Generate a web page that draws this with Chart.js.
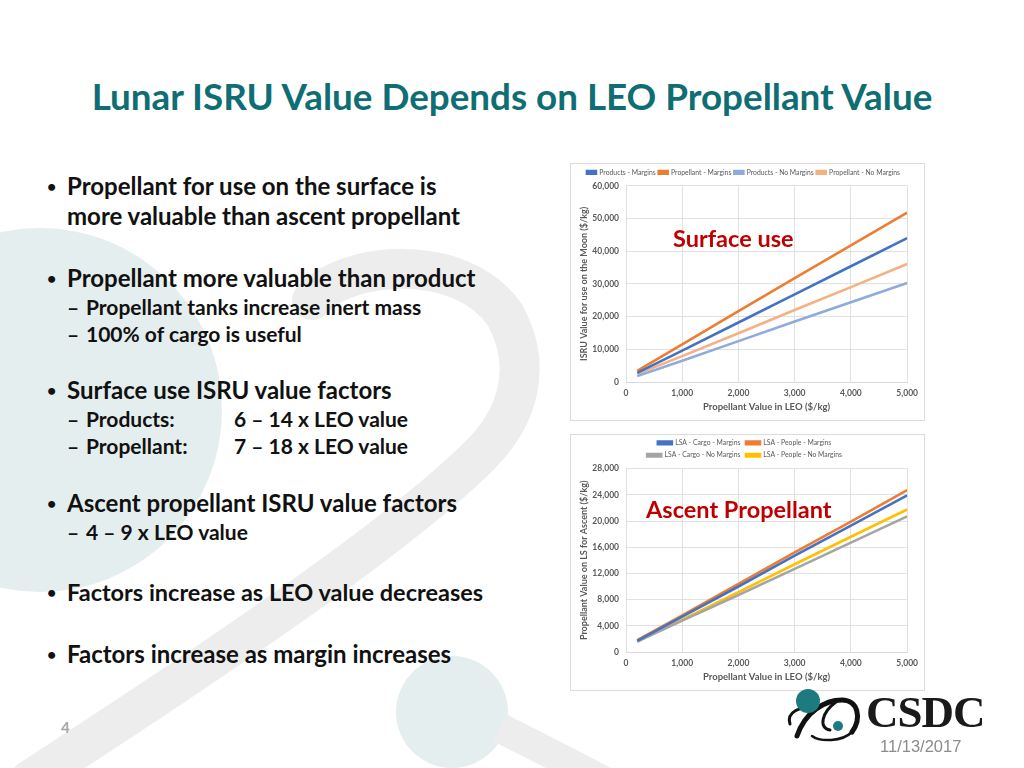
<!DOCTYPE html>
<html>
<head>
<meta charset="utf-8">
<script src="https://cdn.jsdelivr.net/npm/chart.js@4.4.1/dist/chart.umd.min.js"></script>
<style>
  html,body{margin:0;padding:0;background:#fff;}
  body{width:1024px;height:768px;position:relative;overflow:hidden;font-family:Lato,"Open Sans",sans-serif;}
  .t{position:absolute;white-space:nowrap;color:#111;font-weight:700;}
  .title{left:0;width:1024px;text-align:center;top:74px;line-height:44px;font-size:36.8px;color:#0e6e74;}
  .b1{font-size:24px;line-height:30px;}
  .b1n{font-size:23.5px;line-height:30px;}
  .b2{font-size:21px;line-height:26px;}
  .dot{font-size:16px;line-height:30px;}
  .box{position:absolute;background:#fff;border:1px solid #dcdcdc;box-sizing:border-box;}
  .box canvas{position:absolute;left:0;top:0;}
  .anno{position:absolute;color:#c00000;font-weight:700;font-size:23.5px;line-height:28px;white-space:nowrap;}
</style>
</head>
<body>
<svg width="1024" height="768" style="position:absolute;left:0;top:0" xmlns="http://www.w3.org/2000/svg">
  <circle cx="40" cy="410" r="182" fill="#e5eeee"/>
  <circle cx="452" cy="712" r="56" fill="#e5eeee"/>
  <path d="M 312 300 C 345 262, 460 250, 505 315 C 535 370, 515 420, 480 455 C 400 535, 230 650, 30 780" stroke="#ededed" stroke-width="40" fill="none" stroke-linecap="round"/>
  <path d="M 500 728 C 540 748, 580 768, 620 790" stroke="#ededed" stroke-width="30" fill="none"/>
</svg>

<div class="t title">Lunar ISRU Value Depends on LEO Propellant Value</div>

<div class="t dot" style="left:47px;top:171px">•</div>
<div class="t b1" style="left:67px;top:171px">Propellant for use on the surface is</div>
<div class="t b1" style="left:67px;top:201px">more valuable than ascent propellant</div>

<div class="t dot" style="left:47px;top:263px">•</div>
<div class="t b1" style="left:67px;top:263px">Propellant more valuable than product</div>
<div class="t b2" style="left:67px;top:294px">–</div>
<div class="t b2" style="left:86px;top:294px">Propellant tanks increase inert mass</div>
<div class="t b2" style="left:67px;top:321px">–</div>
<div class="t b2" style="left:86px;top:321px">100% of cargo is useful</div>

<div class="t dot" style="left:47px;top:375px">•</div>
<div class="t b1" style="left:67px;top:375px">Surface use ISRU value factors</div>
<div class="t b2" style="left:67px;top:406px">–</div>
<div class="t b2" style="left:86px;top:406px">Products:</div>
<div class="t b2" style="left:234px;top:406px">6 – 14 x LEO value</div>
<div class="t b2" style="left:67px;top:433px">–</div>
<div class="t b2" style="left:86px;top:433px">Propellant:</div>
<div class="t b2" style="left:234px;top:433px">7 – 18 x LEO value</div>

<div class="t dot" style="left:47px;top:488px">•</div>
<div class="t b1" style="left:67px;top:488px">Ascent propellant ISRU value factors</div>
<div class="t b2" style="left:67px;top:519px">–</div>
<div class="t b2" style="left:86px;top:519px">4 – 9 x LEO value</div>

<div class="t dot" style="left:47px;top:577px">•</div>
<div class="t b1n" style="left:67px;top:577px">Factors increase as LEO value decreases</div>

<div class="t dot" style="left:47px;top:639px">•</div>
<div class="t b1" style="left:67px;top:639px">Factors increase as margin increases</div>

<div class="t" style="left:61px;top:718px;font-size:15px;color:#a6a6a6;">4</div>

<div class="box" style="left:570px;top:163px;width:355px;height:258px;">
  <canvas id="c1" width="353" height="256" style="width:353px;height:256px"></canvas>
</div>
<div class="anno" style="left:673px;top:224px;">Surface use</div>

<div class="box" style="left:570px;top:434px;width:355px;height:257px;">
  <canvas id="c2" width="353" height="255" style="width:353px;height:255px"></canvas>
</div>
<div class="anno" style="left:646px;top:495px;">Ascent Propellant</div>

<svg width="80" height="70" style="position:absolute;left:785px;top:676px" xmlns="http://www.w3.org/2000/svg">
  <path d="M 5 48 C 1 36, 15 30, 30 32" stroke="#111" stroke-width="3" fill="none" stroke-linecap="round"/>
  <path d="M 12 60 C 20 36, 40 24, 57 24 C 73 24, 77 42, 67 56" stroke="#111" stroke-width="5" fill="none" stroke-linecap="round"/>
  <path d="M 67 56 C 57 66, 35 66, 27 60" stroke="#111" stroke-width="2.5" fill="none" stroke-linecap="round"/>
  <path d="M 51 26 C 37 36, 33 52, 45 54" stroke="#111" stroke-width="3" fill="none" stroke-linecap="round"/>
  <circle cx="23" cy="25" r="12" fill="#1d7b80"/>
  <circle cx="53" cy="50" r="5" fill="#1d7b80"/>
</svg>
<div class="t" style="left:866px;top:688px;font-family:'Liberation Serif',serif;font-size:45px;line-height:48px;color:#1a1a1a;letter-spacing:-1px;">CSDC</div>
<div class="t" style="left:880px;top:737px;font-family:'Liberation Sans',Arial,sans-serif;font-weight:400;font-size:16.5px;line-height:18px;color:#8c8c8c;">11/13/2017</div>

<script>
// ---------- Data ----------
const leoValues = [200, 1000, 2000, 3000, 4000, 5000];

// Surface use chart
const surfaceNames = ["Products - Margins", "Propellant - Margins", "Products - No Margins", "Propellant - No Margins"];
const productsMargins    = [2800, 9600, 18200, 26800, 35400, 44000];
const propellantMargins  = [3400, 11500, 21700, 31800, 41800, 51800];
const productsNoMargins  = [1800, 6500, 12500, 18500, 24400, 30300];
const propellantNoMargins= [2400, 7900, 14900, 22000, 29000, 36100];
const surfaceColors = ["#4472c4", "#ed7d31", "#8faadc", "#f4b183"];
const surfaceYTicks = [0, 10000, 20000, 30000, 40000, 50000, 60000];

// Ascent chart
const ascentNames = ["LSA - Cargo - Margins", "LSA - People - Margins", "LSA - Cargo - No Margins", "LSA - People - No Margins"];
const cargoMargins    = [1700, 5400, 10000, 14700, 19300, 23900];
const peopleMargins   = [1800, 5600, 10400, 15200, 19900, 24700];
const cargoNoMargins  = [1600, 4800, 8700, 12700, 16700, 20700];
const peopleNoMargins = [1600, 4950, 9150, 13400, 17600, 21750];
const ascentColors = ["#4472c4", "#ed7d31", "#a5a5a5", "#ffc000"];
const ascentYTicks = [0, 4000, 8000, 12000, 16000, 20000, 24000, 28000];

const xTicks = [0, 1000, 2000, 3000, 4000, 5000];

// ---------- Helpers ----------
const FONT = "Lato, 'Open Sans', sans-serif";
const TXT = "#595959";
function pts(vals){ return leoValues.map((x,i)=>({x:x, y:vals[i]})); }
function ds(name, vals, color){
  return {label:name, data:pts(vals), borderColor:color, backgroundColor:color,
          borderWidth:2.6, pointRadius:0, tension:0, fill:false};
}
function makeOptions(yTicks, yTitle, o){
  return {
    responsive:false, animation:false,
    layout:{padding:o.pad},
    plugins:{
      legend:{
        display:true, position:'top', fullSize:o.fullSize,
        labels:{boxWidth:o.boxWidth, boxHeight:2.5, padding:o.padding, color:TXT,
                font:{family:FONT, size:6.8, weight:'400'}}
      },
      tooltip:{enabled:false}
    },
    scales:{
      x:{type:'linear', min:0, max:5000,
         afterBuildTicks:(s)=>{s.ticks = xTicks.map(v=>({value:v}));},
         afterFit:(s)=>{s.height = o.xHeight;},
         grid:{color:'#d9d9d9', lineWidth:0.8, drawTicks:false},
         border:{color:'#d9d9d9'},
         ticks:{color:TXT, padding:6, font:{family:FONT, size:8.5, weight:'700'},
                callback:(v)=>v.toLocaleString('en-US')},
         title:{display:true, text:'Propellant Value in LEO ($/kg)', color:TXT,
                padding:{top:2,bottom:3}, font:{family:FONT, size:9.5, weight:'700'}}
      },
      y:{type:'linear', min:yTicks[0], max:yTicks[yTicks.length-1],
         afterBuildTicks:(s)=>{s.ticks = yTicks.map(v=>({value:v}));},
         afterFit:(s)=>{s.width = o.yWidth;},
         grid:{color:'#d9d9d9', lineWidth:0.8, drawTicks:false},
         border:{display:false},
         ticks:{color:TXT, padding:7, font:{family:FONT, size:8.5, weight:'700'},
                callback:(v)=>v.toLocaleString('en-US')},
         title:{display:true, text:yTitle, color:TXT, padding:{top:0,bottom:2},
                font:{family:FONT, size:9, weight:'700'}}
      }
    }
  };
}

// shifts the (plot-width) legend of the ascent chart a little to the left, like the original
const legendShift = {
  id:'legendShift',
  afterLayout(chart, args, opts){
    if (chart.legend && opts && opts.dx) { chart.legend.left += opts.dx; chart.legend.right += opts.dx; }
  }
};

new Chart(document.getElementById('c1'), {
  type:'line',
  data:{datasets:[
    ds(surfaceNames[0], productsMargins, surfaceColors[0]),
    ds(surfaceNames[1], propellantMargins, surfaceColors[1]),
    ds(surfaceNames[2], productsNoMargins, surfaceColors[2]),
    ds(surfaceNames[3], propellantNoMargins, surfaceColors[3])
  ]},
  options: makeOptions(surfaceYTicks, 'ISRU Value for use on the Moon ($/kg)',
    {pad:{left:8,right:16,top:2,bottom:4}, fullSize:true, padding:3, boxWidth:9, xHeight:34, yWidth:47})
});

const opts2 = makeOptions(ascentYTicks, 'Propellant Value on LS for Ascent ($/kg)',
    {pad:{left:8,right:16,top:-1,bottom:4}, fullSize:false, padding:5.5, boxWidth:14, xHeight:34, yWidth:47});
opts2.plugins.legendShift = {dx:-22};
new Chart(document.getElementById('c2'), {
  type:'line',
  data:{datasets:[
    ds(ascentNames[0], cargoMargins, ascentColors[0]),
    ds(ascentNames[1], peopleMargins, ascentColors[1]),
    ds(ascentNames[2], cargoNoMargins, ascentColors[2]),
    ds(ascentNames[3], peopleNoMargins, ascentColors[3])
  ]},
  options: opts2,
  plugins:[legendShift]
});
</script>
</body>
</html>
